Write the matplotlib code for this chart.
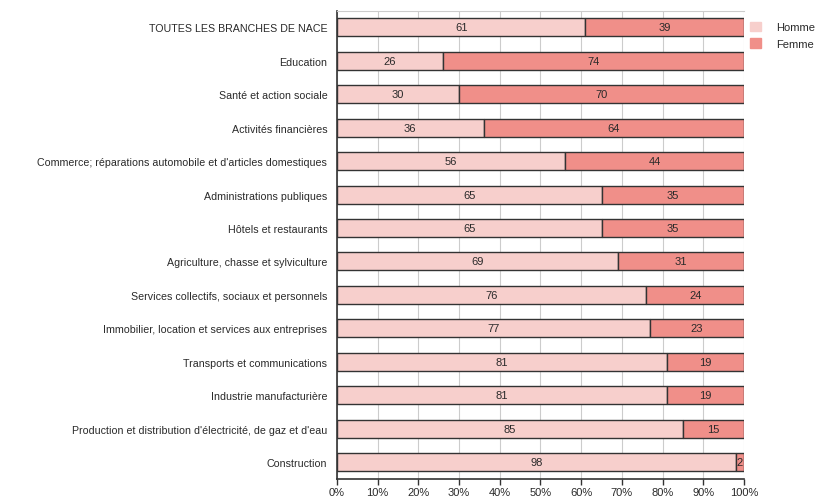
import matplotlib
matplotlib.use('Agg')
import matplotlib.pyplot as plt
import matplotlib.patches as mpatches
import matplotlib.ticker as ticker
import numpy as np

plt.rcParams['font.family'] = ['Liberation Sans', 'DejaVu Sans']

BRANCHES = [
    "TOUTES LES BRANCHES DE NACE",
    "Education",
    "Santé et action sociale",
    "Activités financières",
    "Commerce; réparations automobile et d'articles domestiques",
    "Administrations publiques",
    "Hôtels et restaurants",
    "Agriculture, chasse et sylviculture",
    "Services collectifs, sociaux et personnels",
    "Immobilier, location et services aux entreprises",
    "Transports et communications",
    "Industrie manufacturière",
    "Production et distribution d'électricité, de gaz et d'eau",
    "Construction",
]
HOMME = [61, 26, 30, 36, 56, 65, 65, 69, 76, 77, 81, 81, 85, 98]
FEMME = [39, 74, 70, 64, 44, 35, 35, 31, 24, 23, 19, 19, 15, 2]

C_HOMME = '#F7CFCC'
C_FEMME = '#F08F89'
EDGE    = '#333333'
TXT     = '#2A2A2A'
FS      = 8

fig = plt.figure(figsize=(8.18, 5.02), dpi=100)
ax = fig.add_axes([0.412, 0.044, 0.4975, 0.933])

y = np.arange(len(BRANCHES))
h = np.array(HOMME, dtype=float)
f = np.array(FEMME, dtype=float)

ax.barh(y, h, height=0.54, color=C_HOMME, edgecolor=EDGE, linewidth=1.0, zorder=3)
ax.barh(y, f, left=h, height=0.54, color=C_FEMME, edgecolor=EDGE, linewidth=1.0, zorder=3)

for yi, hv, fv in zip(y, HOMME, FEMME):
    ax.text(hv / 2, yi, f"{hv}", ha='center', va='center', fontsize=FS, color=TXT, zorder=4)
    ax.text(hv + fv / 2, yi, f"{fv}", ha='center', va='center', fontsize=FS, color=TXT, zorder=4)

ax.set_xlim(0, 100)
ax.set_ylim(len(BRANCHES) - 0.5, -0.5)
ax.set_yticks(y)
ax.set_yticklabels(BRANCHES, fontsize=7.7, color=TXT)
ax.tick_params(axis='y', length=0, pad=7)
ax.set_xticks(np.arange(0, 101, 10))
ax.xaxis.set_major_formatter(ticker.FuncFormatter(lambda v, _: f"{v:.0f}%"))
ax.tick_params(axis='x', direction='out', length=4, width=1, color=EDGE,
               labelsize=FS, labelcolor=TXT, pad=2)

ax.grid(axis='x', color='#CCCCCC', linewidth=0.8, zorder=0)
ax.spines['left'].set_color(EDGE)
ax.spines['bottom'].set_color(EDGE)
ax.spines['left'].set_linewidth(1.2)
ax.spines['bottom'].set_linewidth(1.2)
ax.spines['top'].set_color('#CCCCCC')
ax.spines['right'].set_visible(False)

handles = [mpatches.Patch(color=C_HOMME, label='Homme'),
           mpatches.Patch(color=C_FEMME, label='Femme')]
fig.legend(handles=handles, loc='upper left', bbox_to_anchor=(0.905, 0.975),
           frameon=False, fontsize=FS, handlelength=1.0, handleheight=1.0,
           handletextpad=1.3, labelspacing=0.55, labelcolor=TXT)

plt.savefig('out.png', dpi=100)
plt.close()
